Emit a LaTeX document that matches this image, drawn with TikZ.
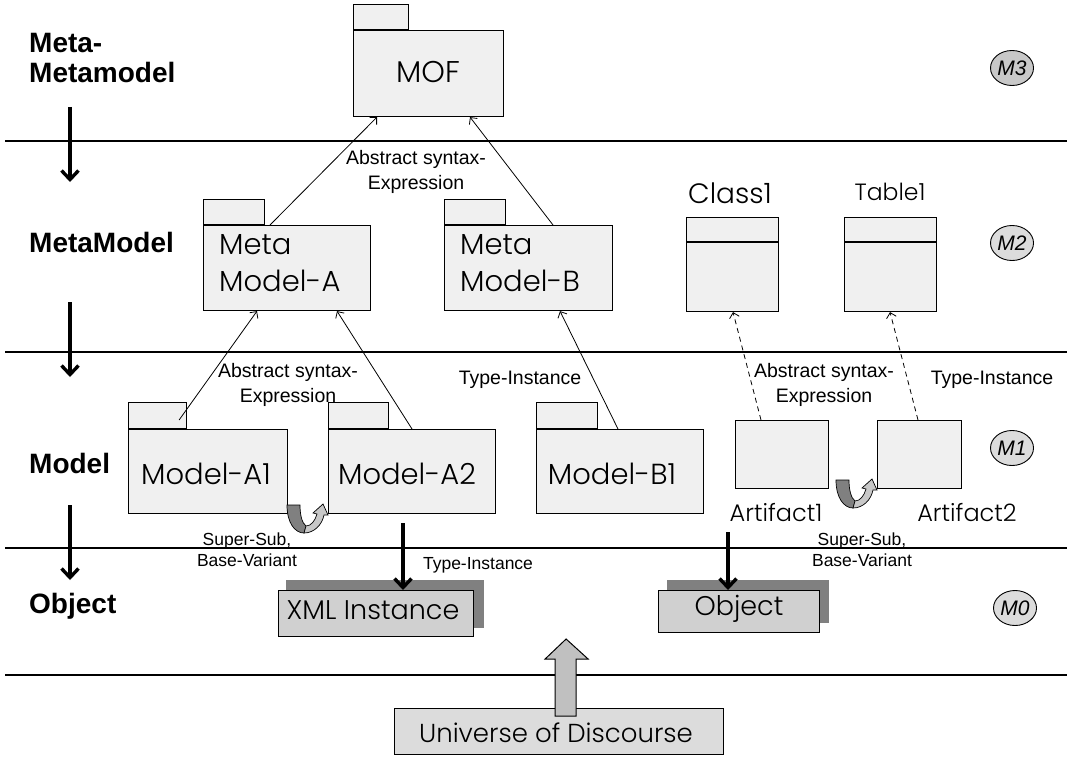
\documentclass[tikz,border=0pt]{standalone}
\usepackage{fontspec}
\setmainfont{Liberation Sans}
\newfontfamily\boxfont{Poppins Light}
\usetikzlibrary{arrows.meta,shapes.geometric,calc}

\definecolor{pkgfill}{HTML}{F0F0F0}
\definecolor{instfill}{HTML}{D0D0D0}
\definecolor{shadowgray}{HTML}{808080}
\definecolor{udfill}{HTML}{DCDCDC}
\definecolor{lvlfill}{HTML}{DCDCDC}
\definecolor{lvlfilldark}{HTML}{C8C8C8}
\definecolor{darkband}{HTML}{808080}
\definecolor{lightband}{HTML}{C8C8C8}
\definecolor{blockfill}{HTML}{C0C0C0}

\tikzset{
  layerline/.style={line width=1.3pt},
  levellabel/.style={font=\bfseries\fontsize{28}{30}\selectfont, anchor=west, align=left, inner sep=0pt},
  pkg/.style={draw, fill=pkgfill, line width=1.1pt, inner sep=0pt, anchor=north west},
  boxtext/.style={font=\boxfont\fontsize{29}{37}\selectfont, inner sep=0pt},
  rel/.style={line width=0.8pt, -{Straight Barb[length=5pt,width=10pt]}},
  reldash/.style={rel, dash pattern=on 5pt off 4pt},
  rellabel/.style={font=\fontsize{19.5}{25}\selectfont, align=center, inner sep=0pt},
  smalllabel/.style={font=\fontsize{17.5}{21}\selectfont, align=center, inner sep=0pt},
  levelarrow/.style={line width=3.4pt, -{Straight Barb[length=9pt,width=17pt]}},
  levelmark/.style={ellipse, draw, fill=lvlfill, line width=0.9pt, minimum width=43pt, minimum height=35pt, inner sep=0pt, font=\itshape\fontsize{21}{21}\selectfont},
  inst/.style={draw, fill=instfill, line width=1.3pt, inner sep=0pt, anchor=north west},
  instshadow/.style={fill=shadowgray, inner sep=0pt, anchor=north west},
  insttext/.style={font=\boxfont\fontsize{27}{27}\selectfont, inner sep=0pt},
  turnarrow/.style={draw, line width=0.7pt},
}

% twisted U-turn arrow between two neighbouring elements
\newcommand\uturnarrow[1]{%
  \begin{scope}[shift={#1}]
    \filldraw[turnarrow, fill=darkband] (0,0) .. controls (0,18) and (8,28) .. (17,28)
      -- (19,21) .. controls (15,18) and (13,10) .. (13,0) -- cycle;
    \filldraw[turnarrow, fill=lightband] (17,28) .. controls (27,28) and (35,20) .. (37,10)
      -- (41,10) -- (36,-1) -- (26,8) -- (30,9)
      .. controls (28,16) and (24,21) .. (19,21) -- cycle;
  \end{scope}}

\begin{document}
\begin{tikzpicture}[x=1pt,y=-1pt]
\useasboundingbox (0,0) rectangle (1067,757);

% layer separators
\draw[layerline] (5,141) -- (1067,141);
\draw[layerline] (5,352) -- (1067,352);
\draw[layerline] (5,548) -- (1067,548);
\draw[layerline] (5,675) -- (1067,675);

% layer names
\node[levellabel] (lm3) at (29,58) {Meta-\\Metamodel};
\node[levellabel] (lm2) at (29,242) {MetaModel};
\node[levellabel] (lm1) at (29,463) {Model};
\node[levellabel] (lm0) at (29,606) {Object};

% arrows between layers
\coordinate (la1s) at (70,107); \coordinate (la1e) at (70,182);
\coordinate (la2s) at (70,302); \coordinate (la2e) at (70,377);
\coordinate (la3s) at (70,505); \coordinate (la3e) at (70,580);
\draw[levelarrow] (la1s) -- (la1e);
\draw[levelarrow] (la2s) -- (la2e);
\draw[levelarrow] (la3s) -- (la3e);

% level marks
\node[levelmark, fill=lvlfilldark] (m3) at (1012,68) {M3};
\node[levelmark] (m2) at (1012,243) {M2};
\node[levelmark] (m1) at (1012,448) {M1};
\node[levelmark] (m0) at (1015,608) {M0};

% M3: MOF package
\node[pkg, minimum width=150pt, minimum height=86pt] (mof) at (353,30) {};
\node[pkg, minimum width=55pt, minimum height=25pt, anchor=south west] (moftab) at (mof.north west) {};
\node[boxtext, font=\boxfont\fontsize{30}{30}\selectfont] (moft) at (428,72) {MOF};

% M2: metamodel packages
\node[pkg, minimum width=167pt, minimum height=85pt] (mma) at (203,225) {};
\node[pkg, minimum width=61pt, minimum height=25pt, anchor=south west] (mmatab) at (mma.north west) {};
\node[boxtext, anchor=west, align=left] (mmat) at (219,263) {Meta\\Model-A};

\node[pkg, minimum width=168pt, minimum height=85pt] (mmb) at (444,225) {};
\node[pkg, minimum width=61pt, minimum height=25pt, anchor=south west] (mmbtab) at (mmb.north west) {};
\node[boxtext, anchor=west, align=left] (mmbt) at (460,263) {Meta\\Model-B};

% M2: class and table
\node[pkg, minimum width=92pt, minimum height=94pt] (class1) at (686,217) {};
\draw[line width=1.1pt] ([yshift=-25pt]class1.north west) -- ([yshift=-25pt]class1.north east);
\node[boxtext, font=\boxfont\fontsize{28}{28}\selectfont] (class1t) at (730,193) {Class1};

\node[pkg, minimum width=92pt, minimum height=94pt] (table1) at (844,217) {};
\draw[line width=1.1pt] ([yshift=-25pt]table1.north west) -- ([yshift=-25pt]table1.north east);
\node[boxtext, font=\boxfont\fontsize{23.5}{23.5}\selectfont] (table1t) at (890,192) {Table1};

% M1: model packages
\node[pkg, minimum width=159pt, minimum height=84pt] (a1) at (128,429) {};
\node[pkg, minimum width=58pt, minimum height=26pt, anchor=south west] (a1tab) at (a1.north west) {};
\node[boxtext] (a1t) at (206,474) {Model-A1};

\node[pkg, minimum width=167pt, minimum height=84pt] (a2) at (328,429) {};
\node[pkg, minimum width=60pt, minimum height=26pt, anchor=south west] (a2tab) at (a2.north west) {};
\node[boxtext] (a2t) at (407,474) {Model-A2};

\node[pkg, minimum width=167pt, minimum height=84pt] (b1) at (536,429) {};
\node[pkg, minimum width=61pt, minimum height=26pt, anchor=south west] (b1tab) at (b1.north west) {};
\node[boxtext] (b1t) at (612,474) {Model-B1};

% M1: artifacts
\node[pkg, minimum width=93pt, minimum height=68pt] (art1) at (735,420) {};
\node[boxtext, font=\boxfont\fontsize{24}{24}\selectfont] (art1t) at (776,513) {Artifact1};
\node[pkg, minimum width=84pt, minimum height=68pt] (art2) at (877,420) {};
\node[boxtext, font=\boxfont\fontsize{24}{24}\selectfont] (art2t) at (967,513) {Artifact2};

% M0: instances with shadows
\node[instshadow, minimum width=198pt, minimum height=48pt] (xmlsh) at (286,580) {};
\node[inst, minimum width=195pt, minimum height=46pt] (xml) at (278,590) {};
\node[insttext] (xmlt) at (373,610) {XML Instance};

\node[instshadow, minimum width=162pt, minimum height=43pt] (objsh) at (667,580) {};
\node[inst, minimum width=161pt, minimum height=42pt] (obj) at (658,590) {};
\node[insttext] (objt) at (739,609) {Object};

% universe of discourse
\node[inst, fill=udfill, line width=1.2pt, minimum width=329pt, minimum height=46pt] (ud) at (394,708) {};
\node[insttext, font=\boxfont\fontsize{26}{26}\selectfont] (udt) at (556,733) {Universe of Discourse};

% block arrow from the universe of discourse
\filldraw[fill=blockfill, line width=1pt]
  ($(ud.north)+(-4,8)$) -- ++(0,-57) -- ++(-10,0) -- ++(21,-20) -- ++(22,20)
  -- ++(-12,0) -- ++(0,57) -- cycle;

% relations M2 -> M3
\draw[rel] ($(mma.north west)+(67,0)$) -- ($(mof.south west)+(24,0)$);
\draw[rel] ($(mmb.north west)+(109,0)$) -- ($(mof.south west)+(117,0)$);
\node[rellabel] (lbl23) at (416,172) {Abstract syntax-\\Expression};

% relations M1 -> M2
\draw[rel] ($(a1tab.south east)+(-8,-9)$) -- ($(mma.south west)+(54,0)$);
\draw[rel] ($(a2.north west)+(84,0)$) -- ($(mma.south west)+(134,0)$);
\draw[rel] ($(b1.north west)+(82,0)$) -- ($(mmb.south west)+(116,0)$);
\draw[reldash] ($(art1.north west)+(26,0)$) -- ($(class1.south west)+(47,0)$);
\draw[reldash] ($(art2.north west)+(41,0)$) -- ($(table1.south west)+(46,0)$);
\node[rellabel] (lbl12a) at (288,385) {Abstract syntax-\\Expression};
\node[rellabel] (lbl12b) at (520,380) {Type-Instance};
\node[rellabel] (lbl12c) at (824,385) {Abstract syntax-\\Expression};
\node[rellabel] (lbl12d) at (992,380) {Type-Instance};

% generalisation turns
\uturnarrow{(287,505)}
\uturnarrow{(836,480)}
\node[smalllabel] (ss1) at (247,550) {Super-Sub,\\Base-Variant};
\node[smalllabel] (ss2) at (862,550) {Super-Sub,\\Base-Variant};

% relations M1 -> M0
\coordinate (xmlsrc) at (403,523);
\coordinate (objsrc) at (728,532);
\draw[levelarrow] (xmlsrc) -- ($(xml.north west)+(125,0)$);
\draw[levelarrow] (objsrc) -- ($(obj.north west)+(70,0)$);
\node[smalllabel] (lbl01) at (478,565) {Type-Instance};

\end{tikzpicture}
\end{document}
